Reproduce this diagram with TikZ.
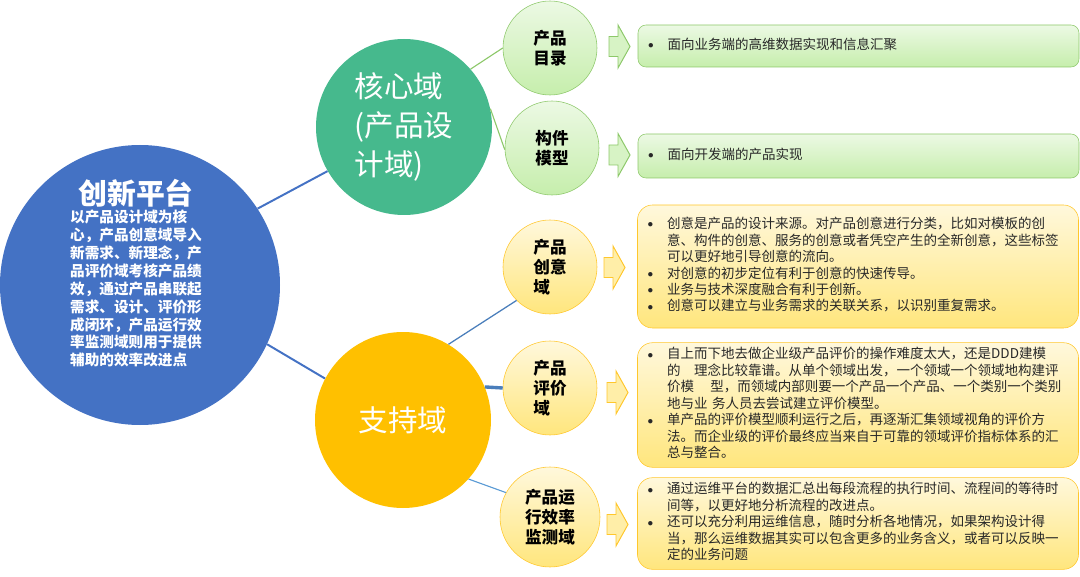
\documentclass[tikz,border=0pt]{standalone}
\usepackage{fontspec}
\setmainfont{Noto Sans CJK SC}
\usepackage{tikz}
\definecolor{platblue}{RGB}{68,114,196}
\definecolor{coregreen}{RGB}{70,185,141}
\definecolor{suppyellow}{RGB}{255,192,0}
\definecolor{leafline}{RGB}{141,200,106}
\definecolor{leaftop}{RGB}{236,249,228}
\definecolor{leafbot}{RGB}{198,238,172}
\definecolor{sunline}{RGB}{255,199,44}
\definecolor{suntop}{RGB}{255,248,220}
\definecolor{sunbot}{RGB}{255,230,125}
\definecolor{linkblue}{RGB}{74,126,187}
\definecolor{twigblue}{RGB}{91,155,213}
\definecolor{boxtext}{RGB}{40,40,40}
\newcommand{\pxl}{0.025cm}
\tikzset{
  hub/.style={circle, inner sep=0pt, minimum size=176*\pxl, text=white,
              align=left, font=\fontsize{21}{28}\selectfont},
  greenleaf/.style={circle, draw=leafline, top color=leaftop, bottom color=leafbot,
              inner sep=0pt, minimum size=94*\pxl, align=left,
              font=\fontsize{11.8}{14.2}\selectfont\bfseries},
  yellowleaf/.style={greenleaf, draw=sunline, top color=suntop, bottom color=sunbot},
  greenpoint/.style={draw=leafline, fill=leaftop!45!leafbot, line width=0.7pt, line join=miter},
  yellowpoint/.style={greenpoint, draw=sunline, fill=suntop!45!sunbot},
  greenbox/.style={draw=leafline, top color=leaftop, bottom color=leafbot,
              rounded corners=8*\pxl, minimum width=441*\pxl, text width=421*\pxl,
              inner xsep=10*\pxl, align=left, text=boxtext,
              font=\fontsize{9.6}{11.7}\selectfont},
  yellowbox/.style={greenbox, draw=sunline, top color=suntop, bottom color=sunbot,
              rounded corners=15*\pxl},
  trunk/.style={platblue, line width=1.4pt},
  twig/.style={leafline, line width=0.8pt},
}
\newcommand{\dotmark}{\raisebox{0.5pt}{\scalebox{0.8}{$\bullet$}}}
% hollow block arrow starting at the tail midpoint #2
\newcommand{\pointer}[2]{%
  \draw[#1] (#2) ++(0,-10) -- ++(9,0) -- ++(0,-11.5) -- ++(12,21.5)
        -- ++(-12,21.5) -- ++(0,-11.5) -- ++(-9,0) -- cycle;}

\begin{document}
\begin{tikzpicture}[x=0.025cm, y=-0.025cm]
    \useasboundingbox (0,0) rectangle (1080,577);
    % hubs
    \node[circle, fill=platblue, minimum size=280*\pxl] (platform) at (140,285) {};
    \node[text=white, align=center] (platformtext) at (136,275)
         {{\fontsize{20.5}{24}\selectfont\bfseries 创新平台}\\[1pt]
          {\fontsize{10.4}{12.4}\selectfont\bfseries
           \begin{tabular}{@{}l@{}}
           以产品设计域为核\\ 心，产品创意域导入\\ 新需求、新理念，产\\
           品评价域考核产品绩\\ 效，通过产品串联起\\ 需求、设计、评价形\\
           成闭环，产品运行效\\ 率监测域则用于提供\\ 辅助的效率改进点
           \end{tabular}}};
    \node[hub, fill=coregreen] (core) at (404,127) {核心域\\(产品设\\计域)};
    \node[hub, fill=suppyellow, align=center] (support) at (403,420) {支持域};
    % leaves
    \node[greenleaf] (catalog) at (550,48) {产品\\目录};
    \node[greenleaf] (component) at (552,148) {构件\\模型};
    \node[yellowleaf] (idea) at (550,267) {产品\\创意\\域};
    \node[yellowleaf] (evaluation) at (550,388) {产品\\评价\\域};
    \node[yellowleaf, minimum size=100*\pxl] (monitor) at (550,517) {产品运\\行效率\\监测域};
    \draw[trunk] (platform.33) -- (core.210);
    \draw[trunk] (platform.-25) -- (support.152);
    \draw[twig] (core.41) -- (catalog.180);
    \draw[twig] (core.12) -- (component.182);
    \draw[linkblue, line width=0.9pt] (support.59) -- (idea.225);
    \draw[linkblue, line width=2.4pt] (support.22) -- (evaluation.west);
    \draw[twigblue, line width=0.8pt] (support.-42) -- (monitor.151);
    % pointers
    \coordinate (catalogpt) at (609,46.5);
    \coordinate (componentpt) at (609,155);
    \coordinate (ideapt) at (604,267.5);
    \coordinate (evaluationpt) at (607,392.5);
    \coordinate (monitorpt) at (607,524.5);
    \pointer{greenpoint}{catalogpt}
    \pointer{greenpoint}{componentpt}
    \pointer{yellowpoint}{ideapt}
    \pointer{yellowpoint}{evaluationpt}
    \pointer{yellowpoint}{monitorpt}
    % notes
    \node[greenbox, minimum height=42*\pxl] (catalognote) at (858.5,46)
         {\begin{tabular}{@{}l@{\hspace{10pt}}l@{}}
          \dotmark & 面向业务端的高维数据实现和信息汇聚
          \end{tabular}};
    \node[greenbox, minimum height=44*\pxl] (componentnote) at (858.5,156)
         {\begin{tabular}{@{}l@{\hspace{10pt}}l@{}}
          \dotmark & 面向开发端的产品实现
          \end{tabular}};
    \node[yellowbox, minimum height=123*\pxl] (ideanote) at (858,266.5)
         {\begin{tabular}{@{}l@{\hspace{10pt}}l@{}}
          \dotmark & 创意是产品的设计来源。对产品创意进行分类，比如对模板的创\\
                   & 意、构件的创意、服务的创意或者凭空产生的全新创意，这些标签\\
                   & 可以更好地引导创意的流向。\\
          \dotmark & 对创意的初步定位有利于创意的快速传导。\\
          \dotmark & 业务与技术深度融合有利于创新。\\
          \dotmark & 创意可以建立与业务需求的关联关系，以识别重复需求。
          \end{tabular}};
    \node[yellowbox, minimum height=124*\pxl] (evaluationnote) at (858,405)
         {\begin{tabular}{@{}l@{\hspace{10pt}}l@{}}
          \dotmark & 自上而下地去做企业级产品评价的操作难度太大，还是DDD建模\\
                   & 的\hspace{1em}理念比较靠谱。从单个领域出发，一个领域一个领域地构建评\\
                   & 价模\hspace{1.2em}型，而领域内部则要一个产品一个产品、一个类别一个类别\\
                   & 地与业 务人员去尝试建立评价模型。\\
          \dotmark & 单产品的评价模型顺利运行之后，再逐渐汇集领域视角的评价方\\
                   & 法。而企业级的评价最终应当来自于可靠的领域评价指标体系的汇\\
                   & 总与整合。
          \end{tabular}};
    \node[yellowbox, minimum height=87*\pxl] (monitornote) at (858,523.5)
         {\begin{tabular}{@{}l@{\hspace{10pt}}l@{}}
          \dotmark & 通过运维平台的数据汇总出每段流程的执行时间、流程间的等待时\\
                   & 间等，以更好地分析流程的改进点。\\
          \dotmark & 还可以充分利用运维信息，随时分析各地情况，如果架构设计得\\
                   & 当，那么运维数据其实可以包含更多的业务含义，或者可以反映一\\
                   & 定的业务问题
          \end{tabular}};
\end{tikzpicture}
\end{document}
